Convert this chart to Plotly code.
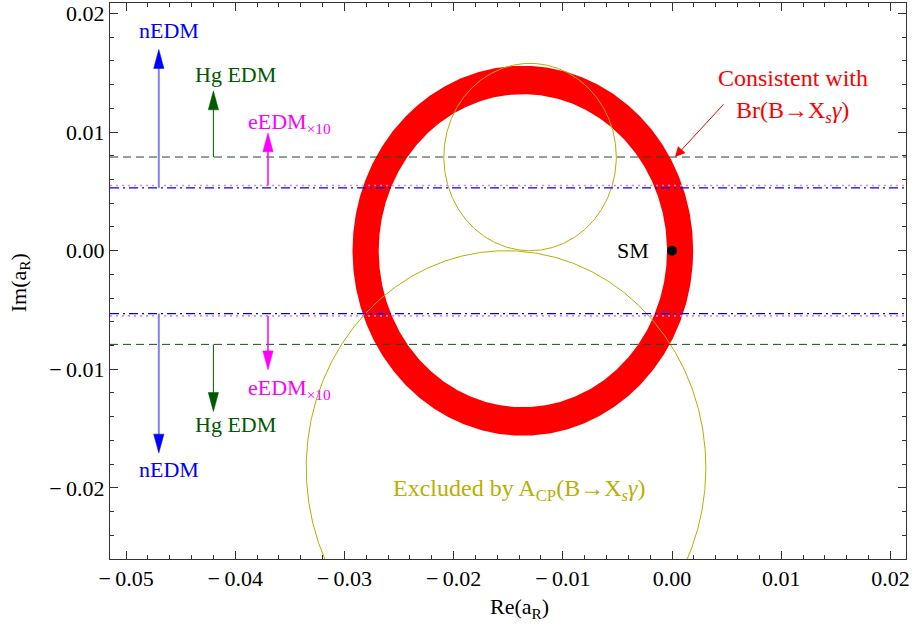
import numpy as np
import plotly.graph_objects as go

# ---------------- data ----------------
x_range = [-0.05147, 0.02143]
y_range = [-0.0260, 0.02089]

x_tickvals = [-0.05, -0.04, -0.03, -0.02, -0.01, 0.00, 0.01, 0.02]
x_ticktext = ["\u2212\u20090.05", "\u2212\u20090.04", "\u2212\u20090.03", "\u2212\u20090.02",
              "\u2212\u20090.01", "0.00", "0.01", "0.02"]
y_tickvals = [-0.02, -0.01, 0.00, 0.01, 0.02]
y_ticktext = ["\u2212\u20090.02", "\u2212\u20090.01", "0.00", "0.01", "0.02"]

# red ring: consistent with Br(B->Xs gamma)
ring_center = [-0.01366, 0.0]
ring_radii = [0.0132, 0.0156]          # inner, outer

# olive circles: excluded by A_CP
small_circle_center = [-0.0130, 0.0079]
small_circle_radius = 0.0079
large_circle_center = [-0.0152, -0.0183]
large_circle_radius = 0.0183

# horizontal EDM limits
hg_limit = 0.0079
n_limit = 0.0053
e_limit = 0.0055

# vertical arrows: x, base, tip (upper side; lower side mirrored)
arrow_names = ["nEDM", "Hg EDM", "eEDM"]
arrow_x = [-0.047, -0.042, -0.037]
arrow_base = [0.0053, 0.0079, 0.0055]
arrow_tip_up = [0.01697, 0.01348, 0.00994]
arrow_tip_down = [-0.01707, -0.01356, -0.01005]

# SM point
sm_point = [0.0, 0.0]

# ---------------- styles ----------------
FONT = "Liberation Serif"
RED = "#ff0000"
OLIVE = "rgb(185,175,0)"
GREEN = "#005a00"
BLUE = "#0000ff"
LIGHTBLUE = "#8080ff"
MAGENTA = "#ff00ff"
LIGHTMAGENTA = "#f27cf2"

fig = go.Figure()

# ring
th = np.linspace(0, 2 * np.pi, 721)
rin, rout = ring_radii
rx = np.concatenate([ring_center[0] + rout * np.cos(th), ring_center[0] + rin * np.cos(th[::-1])])
ry = np.concatenate([ring_center[1] + rout * np.sin(th), ring_center[1] + rin * np.sin(th[::-1])])
fig.add_trace(go.Scatter(x=rx, y=ry, mode="lines", fill="toself", fillcolor=RED,
                         line=dict(width=0, color=RED), hoverinfo="skip"))

# olive circles
for c, r in [(small_circle_center, small_circle_radius), (large_circle_center, large_circle_radius)]:
    fig.add_trace(go.Scatter(x=c[0] + r * np.cos(th), y=c[1] + r * np.sin(th), mode="lines",
                             line=dict(color=OLIVE, width=1), hoverinfo="skip"))

# horizontal lines
for s in (1, -1):
    fig.add_trace(go.Scatter(x=x_range, y=[s * hg_limit] * 2, mode="lines",
                             line=dict(color="#1f4a1f", width=1, dash="8px,5px")))
    fig.add_trace(go.Scatter(x=x_range, y=[s * e_limit] * 2, mode="lines",
                             line=dict(color=LIGHTMAGENTA, width=1.6, dash="2px,4px")))
    fig.add_trace(go.Scatter(x=x_range, y=[s * n_limit] * 2, mode="lines",
                             line=dict(color=BLUE, width=1.2, dash="9px,4px,2px,4px")))

# vertical arrows
shaft_colors = [LIGHTBLUE, GREEN, MAGENTA]
head_colors = [BLUE, GREEN, MAGENTA]
shaft_widths = [2, 1, 1.5]
head_len = 0.0016      # in y data units
head_half = 0.00047    # in x data units
for i in range(3):
    for s, tip in ((1, arrow_tip_up[i]), (-1, arrow_tip_down[i])):
        base = s * arrow_base[i]
        fig.add_trace(go.Scatter(x=[arrow_x[i], arrow_x[i]], y=[base, tip - s * head_len * 0.8],
                                 mode="lines", line=dict(color=shaft_colors[i], width=shaft_widths[i])))
        hx = [arrow_x[i] - head_half, arrow_x[i], arrow_x[i] + head_half, arrow_x[i] - head_half]
        hy = [tip - s * head_len, tip, tip - s * head_len, tip - s * head_len]
        fig.add_trace(go.Scatter(x=hx, y=hy, mode="lines", fill="toself", fillcolor=head_colors[i],
                                 line=dict(color=head_colors[i], width=0.5)))

# SM point
fig.add_trace(go.Scatter(x=[sm_point[0]], y=[sm_point[1]], mode="markers",
                         marker=dict(color="black", size=10)))

# ---------------- annotations ----------------
ann = []
def txt(x, y, text, color, size=22, xanchor="center", **kw):
    ann.append(dict(x=x, y=y, xref="x", yref="y", text=text, showarrow=False,
                    font=dict(family=FONT, size=size, color=color), xanchor=xanchor,
                    yanchor="middle", **kw))

txt(-0.0461, 0.0186, "nEDM", BLUE)
txt(-0.0461, -0.01847, "nEDM", BLUE)
txt(-0.0400, 0.01489, "Hg EDM", GREEN)
txt(-0.0400, -0.01468, "Hg EDM", GREEN)
txt(-0.0350, 0.0108, "eEDM<sub>\u00d710</sub>", MAGENTA)
txt(-0.0350, -0.01165, "eEDM<sub>\u00d710</sub>", MAGENTA)
txt(0.01108, 0.01455, "Consistent with", RED, size=24)
txt(0.01100, 0.01170, "Br(B\u2192X<sub><i>s</i></sub><i>\u03b3</i>)", RED, size=24)
txt(-0.00191, 0.0, "SM", "black", xanchor="right")
txt(-0.01401, -0.0202, "Excluded by A<sub>CP</sub>(B\u2192X<sub><i>s</i></sub><i>\u03b3</i>)", OLIVE, size=24)

# red pointer arrow
ann.append(dict(x=0.00027, y=0.0079, ax=0.00485, ay=0.01247, xref="x", yref="y", axref="x", ayref="y",
                text="", showarrow=True, arrowhead=2, arrowsize=2, arrowwidth=1, arrowcolor=RED))

# axis titles
ann.append(dict(x=0.515, y=-0.0875, xref="paper", yref="paper", text="Re(a<sub>R</sub>)",
                showarrow=False, font=dict(family=FONT, size=22, color="black"),
                xanchor="center", yanchor="middle"))
ann.append(dict(x=-0.113, y=0.496, xref="paper", yref="paper", text="Im(a<sub>R</sub>)",
                showarrow=False, font=dict(family=FONT, size=22, color="black"), textangle=-90,
                xanchor="center", yanchor="middle"))

axis_common = dict(showgrid=False, zeroline=False, showline=True, linecolor="#333333", linewidth=1,
                   mirror="allticks", ticks="inside", ticklen=8, tickcolor="#333333", tickwidth=1,
                   automargin=False,
                   tickfont=dict(family=FONT, size=22, color="black"))

fig.update_layout(
    width=914, height=630,
    margin=dict(l=110, r=8, t=3, b=71),
    paper_bgcolor="white", plot_bgcolor="white",
    showlegend=False,
    annotations=ann,
    xaxis=dict(range=x_range, tickvals=x_tickvals, ticktext=x_ticktext,
               minor=dict(ticks="inside", dtick=0.002, tick0=0, ticklen=4, tickcolor="#333333"),
               **axis_common),
    yaxis=dict(range=y_range, tickvals=y_tickvals, ticktext=y_ticktext,
               minor=dict(ticks="inside", dtick=0.002, tick0=0, ticklen=4, tickcolor="#333333"),
               **axis_common),
)

fig.write_html("out.html", config={"displayModeBar": False},
               post_script="document.body.style.margin='0px';document.body.style.overflow='hidden';")
